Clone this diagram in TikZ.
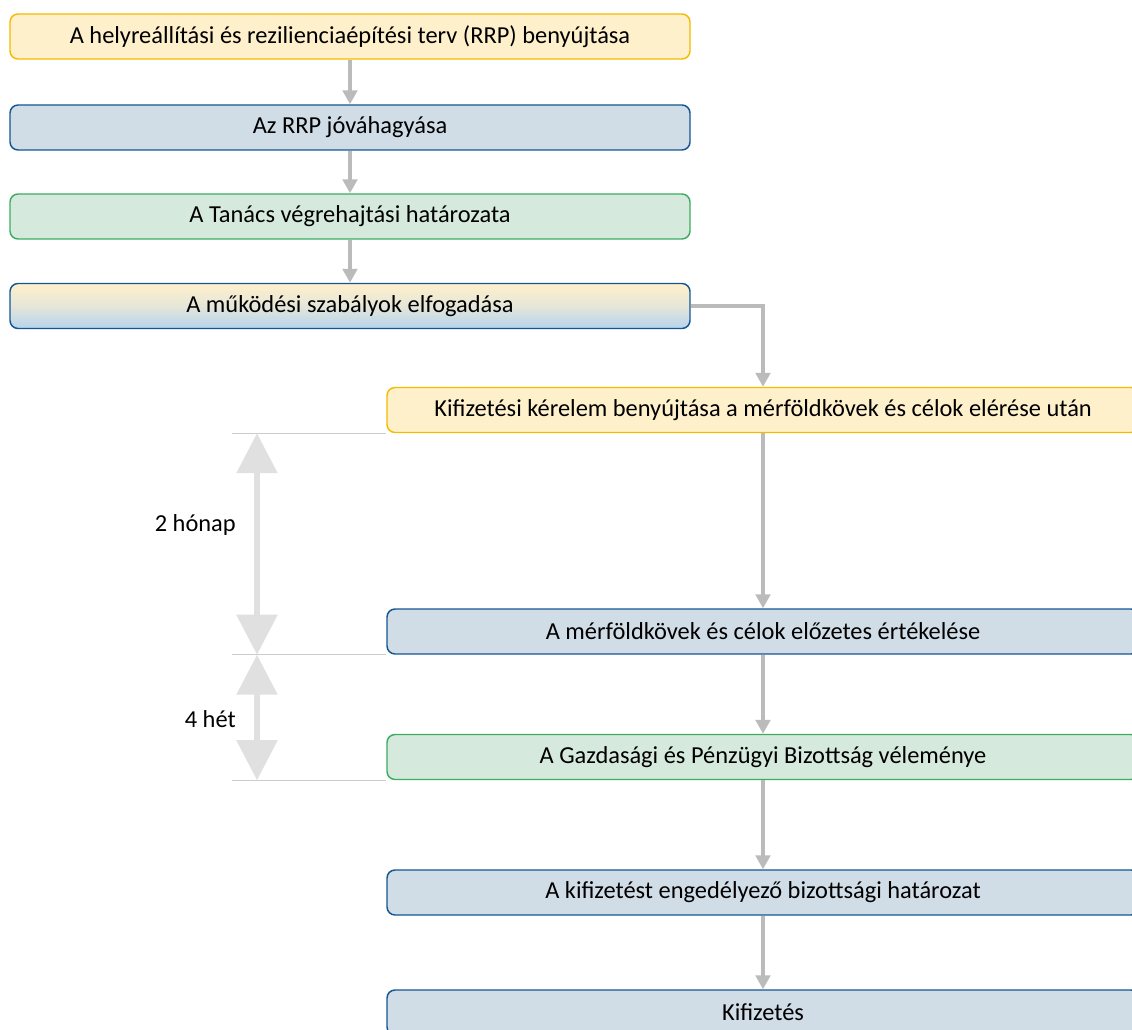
\documentclass[tikz,border=0pt]{standalone}
\usepackage{fontspec}
\setmainfont{Carlito}
\usetikzlibrary{arrows.meta}
\definecolor{yelfill}{RGB}{255,240,204}
\definecolor{yeldraw}{RGB}{246,186,0}
\definecolor{blufill}{RGB}{208,220,230}
\definecolor{bludraw}{RGB}{20,86,146}
\definecolor{grnfill}{RGB}{214,233,221}
\definecolor{grndraw}{RGB}{60,172,98}
\definecolor{grdblue}{RGB}{182,212,238}
\definecolor{flowgray}{RGB}{187,187,187}
\definecolor{spangray}{RGB}{224,224,224}
\definecolor{guidegray}{RGB}{204,204,204}
\tikzset{
  stagebox/.style={rectangle, rounded corners=6pt, line width=1.1pt, minimum height=33.75pt, inner sep=0pt, font=\fontsize{18.3}{20}\selectfont},
  leftbox/.style={stagebox, minimum width=510pt},
  rightbox/.style={stagebox, minimum width=564pt},
  yelbox/.style={draw=yeldraw, fill=yelfill},
  blubox/.style={draw=bludraw, fill=blufill},
  grnbox/.style={draw=grndraw, fill=grnfill},
  flow/.style={draw=flowgray, line width=2.4pt, -{Triangle[length=10.5pt,width=11pt]}},
  span/.style={draw=spangray, line width=4.3pt, {Triangle[length=30pt,width=30pt]}-{Triangle[length=30pt,width=30pt]}},
  guide/.style={draw=guidegray, line width=0.8pt},
  spanlabel/.style={anchor=east, inner sep=0pt, font=\fontsize{18.3}{20}\selectfont}
}
\begin{document}
\begin{tikzpicture}[x=0.75pt,y=0.75pt,yscale=-1,xscale=1]
\useasboundingbox (0,0) rectangle (1132,1030);
\clip (0,0) rectangle (1132,1030);

% left column
\node [leftbox, yelbox] (submit) at (350,36.5) {A helyreállítási és rezilienciaépítési terv (RRP) benyújtása};
\node [leftbox, blubox] (approve) at (350,127.5) {Az RRP jóváhagyása};
\node [leftbox, grnbox] (council) at (350,216.5) {A Tanács végrehajtási határozata};
\node [leftbox, draw=bludraw, top color=yelfill, bottom color=grdblue, middle color=yelfill!65!grdblue] (rules) at (350,306) {A működési szabályok elfogadása};

% right column
\node [rightbox, yelbox] (request) at (763,410) {Kifizetési kérelem benyújtása a mérföldkövek és célok elérése után};
\node [rightbox, blubox] (assess) at (763,631.5) {A mérföldkövek és célok előzetes értékelése};
\node [rightbox, grnbox] (efc) at (763,757) {A Gazdasági és Pénzügyi Bizottság véleménye};
\node [rightbox, blubox] (decision) at (763,892.5) {A kifizetést engedélyező bizottsági határozat};
\node [rightbox, blubox] (payment) at (763,1012.5) {Kifizetés};

% flow arrows
\draw [flow] (submit) -- (approve);
\draw [flow] (approve) -- (council);
\draw [flow] (council) -- (rules);
\draw [flow] (rules.east) -| (request.north);
\draw [flow] (request) -- (assess);
\draw [flow] (assess) -- (efc);
\draw [flow] (efc) -- (decision);
\draw [flow] (decision) -- (payment);

% time spans
\coordinate (edge) at (232,0);
\coordinate (axis) at (257,0);
\draw [guide] (edge |- request.south) -- (request.south west);
\draw [guide] (edge |- assess.south) -- (assess.south west);
\draw [guide] (edge |- efc.south) -- (efc.south west);
\draw [span] (axis |- request.south) -- (axis |- assess.south);
\draw [span] (axis |- assess.south) -- (axis |- efc.south);
\node [spanlabel] (months) at (236,525) {2 hónap};
\node [spanlabel] (weeks) at (236,719) {4 hét};

\end{tikzpicture}
\end{document}
